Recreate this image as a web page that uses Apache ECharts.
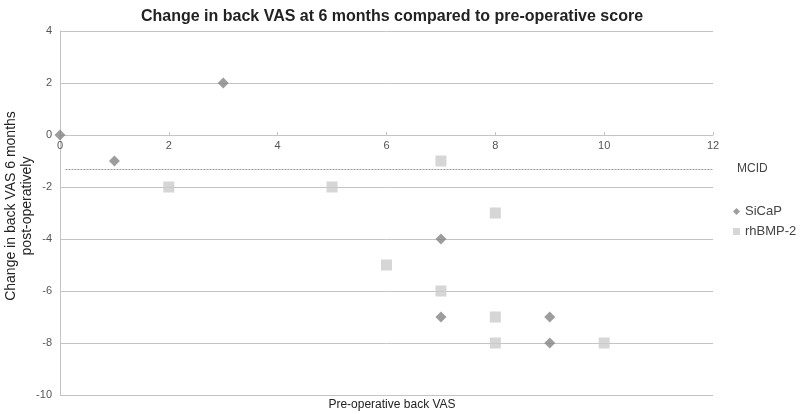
<!DOCTYPE html>
<html>
<head>
<meta charset="utf-8">
<script src="https://cdn.jsdelivr.net/npm/echarts@6/dist/echarts.min.js"></script>
<style>
  html, body { margin: 0; padding: 0; background: #fff; }
  #chart { width: 800px; height: 414px; }
</style>
</head>
<body>
<div id="chart"></div>
<script>
// SiCaP points [pre-op VAS, change]
const sicapData = [[0, 0], [1, -1], [3, 2], [7, -4], [7, -7], [9, -7], [9, -8]];
// rhBMP-2 points
const rhbmpData = [[2, -2], [5, -2], [6, -5], [7, -1], [7, -6], [8, -3], [8, -7], [8, -8], [10, -8]];
const mcidValue = -1.3;

const chart = echarts.init(document.getElementById('chart'));
const font = 'Liberation Sans, Arial, sans-serif';

function buildOption(xOffset) {
  return {
    animation: false,
    title: [{
      text: 'Change in back VAS at 6 months compared to pre-operative score',
      left: 387, top: 4, textAlign: 'center',
      textStyle: { fontFamily: font, fontSize: 16, fontWeight: 'bold', color: '#222' }
    }, {
      text: 'Pre-operative back VAS',
      left: 387, top: 394, textAlign: 'center',
      textStyle: { fontFamily: font, fontSize: 12, fontWeight: 'normal', color: '#222' }
    }],
    legend: {
      orient: 'vertical', left: 733, top: 205, itemGap: 7, padding: 0,
      itemWidth: 7, itemHeight: 7,
      textStyle: { fontFamily: font, fontSize: 13, color: '#444' },
      data: [{ name: 'SiCaP', icon: 'diamond' }, { name: 'rhBMP-2', icon: 'rect' }]
    },
    grid: { left: 60, right: 87, top: 31, bottom: 19, outerBoundsMode: 'none' },
    xAxis: {
      type: 'value', min: 0, max: 12, interval: 2, offset: xOffset,
      axisLine: { onZero: false, lineStyle: { color: '#c4c4c4' } },
      axisTick: { show: true, inside: true, length: 3, lineStyle: { color: '#c4c4c4' } },
      axisLabel: { fontFamily: font, fontSize: 11, color: '#555', margin: 5 },
      splitLine: { show: false }
    },
    yAxis: {
      type: 'value', min: -10, max: 4, interval: 2,
      name: 'Change in back VAS 6 months\npost-operatively', nameLocation: 'middle', nameGap: 25,
      nameMoveOverlap: false,
      nameTextStyle: { fontFamily: font, fontSize: 14, color: '#222', lineHeight: 16, padding: [0, 0, 0, 14] },
      axisLine: { show: true, onZero: false, lineStyle: { color: '#c4c4c4' } },
      axisTick: { show: false },
      axisLabel: { fontFamily: font, fontSize: 11, color: '#555', margin: 8 },
      splitLine: { show: true, lineStyle: { color: '#c4c4c4' } }
    },
    series: [
      {
        name: 'SiCaP', type: 'scatter', symbol: 'diamond', symbolSize: 11,
        itemStyle: { color: '#858585' }, data: sicapData, z: 3
      },
      {
        name: 'rhBMP-2', type: 'scatter', symbol: 'rect', symbolSize: 11,
        itemStyle: { color: '#cccccc' }, data: rhbmpData, z: 3,
        markLine: {
          silent: true, symbol: 'none',
          lineStyle: { color: '#999', type: [2, 1], width: 1 },
          label: { position: 'end', formatter: 'MCID', fontFamily: font, fontSize: 12, color: '#444', distance: 24 },
          data: [[{ coord: [0.1, mcidValue] }, { coord: [12, mcidValue] }]]
        }
      }
    ]
  };
}

chart.setOption(buildOption(0));
// move the x axis up so it crosses the y axis at 0
const zeroY = chart.convertToPixel({ yAxisIndex: 0 }, 0);
const bottomY = chart.convertToPixel({ yAxisIndex: 0 }, -10);
chart.setOption(buildOption(zeroY - bottomY), true);
</script>
</body>
</html>
